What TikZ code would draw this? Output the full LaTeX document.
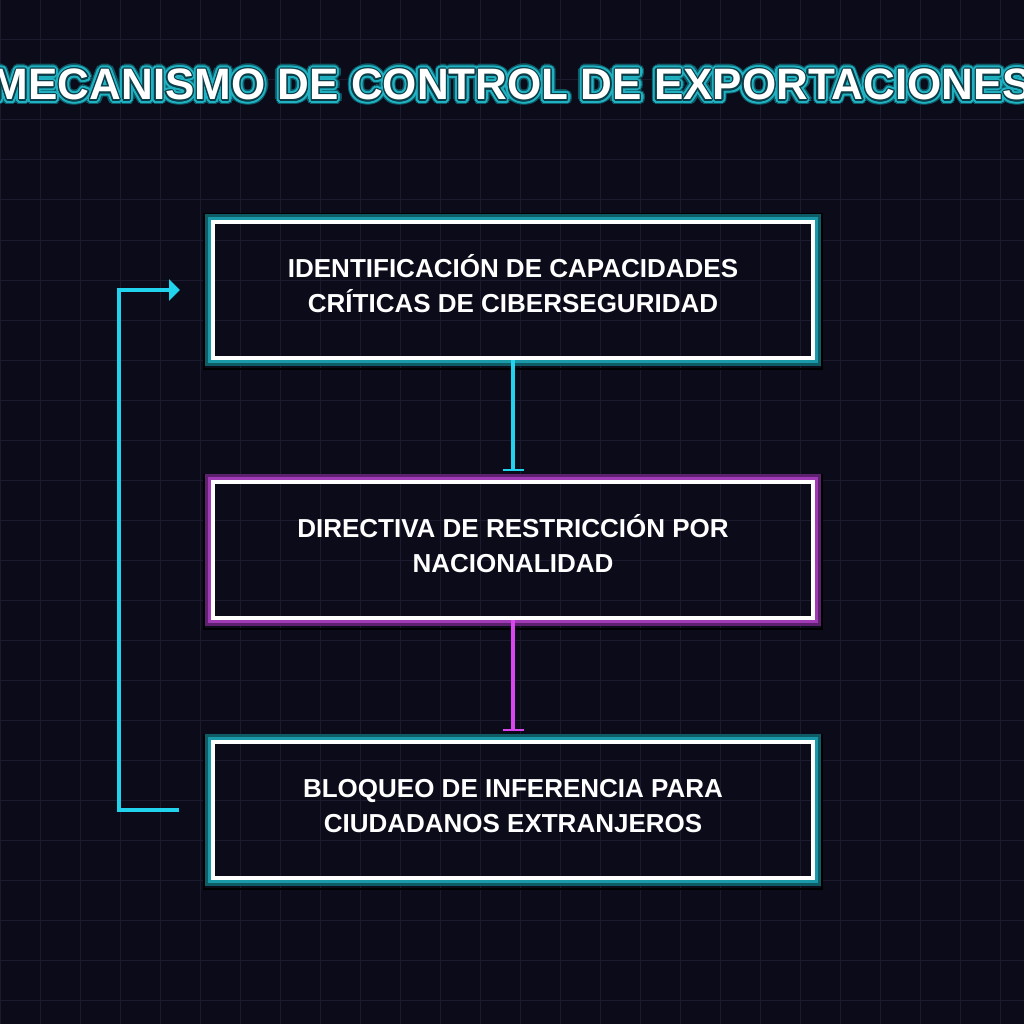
\documentclass[tikz,border=0pt]{standalone}
\usepackage{fontspec}
\setmainfont{Liberation Sans}
\usetikzlibrary{positioning,arrows.meta}
\definecolor{bgdark}{HTML}{0C0B1A}
\definecolor{gridcol}{HTML}{1B1A2F}
\definecolor{cyanline}{HTML}{22D3EE}
\definecolor{magline}{HTML}{D946EF}
\definecolor{tealgl}{HTML}{1A9AA8}
\definecolor{tealdk}{HTML}{0E5C66}
\definecolor{maggl}{HTML}{A03BB5}
\definecolor{magdk}{HTML}{5E2170}
\definecolor{ttlglo}{HTML}{0E5A66}
\definecolor{ttlmid}{HTML}{20B2C2}
\definecolor{ttldk}{HTML}{0B3E48}
\newcommand\titletext{MECANISMO DE CONTROL DE EXPORTACIONES}
\tikzset{
  stage/.style={draw=white, line width=4pt, minimum width=600pt, minimum height=136pt,
                inner sep=0pt, align=center, text=white, text height=49pt, text depth=5pt,
                font=\fontsize{26}{35}\selectfont\bfseries},
  gridln/.style={draw=gridcol, line width=1pt},
  ttl/.style={font=\fontsize{44}{50}\selectfont\bfseries, inner sep=0pt, anchor=base},
  flowc/.style={draw=cyanline, line width=4pt, -{Bar[width=21pt,line width=2pt]}, shorten >=9pt},
  flowm/.style={draw=magline, line width=4pt, -{Bar[width=21pt,line width=2pt]}, shorten >=9pt},
  loopback/.style={draw=cyanline, line width=4pt, -{Triangle[length=11pt,width=21pt]}},
}

\begin{document}
\begin{tikzpicture}[x=1pt, y=-1pt]
  \useasboundingbox (0,0) rectangle (1024,1024);
  \fill[bgdark] (0,0) rectangle (1024,1024);
  \foreach \g in {0,40,...,1000} {
    \draw[gridln] (\g,0) -- (\g,1024);
    \draw[gridln] (0,\g) -- (1024,\g);
  }

  % title with glow
  \foreach \r/\c/\n in {5/ttlglo/a, 3.5/ttlmid/b, 1.3/ttldk/c}
    \foreach \a [count=\k] in {0,22.5,...,337.5}
      \node[ttl, text=\c] (glow\n\k) at ([shift={(\a:\r)}]512,100) {\titletext};
  \node[ttl, text=white] (title) at (512,100) {\titletext};

  % stages
  \node[stage] (b1) at (513,290) {IDENTIFICACIÓN DE CAPACIDADES\\CRÍTICAS DE CIBERSEGURIDAD};
  \node[stage, below=120pt of b1] (b2) {DIRECTIVA DE RESTRICCIÓN POR\\NACIONALIDAD};
  \node[stage, below=120pt of b2] (b3) {BLOQUEO DE INFERENCIA PARA\\CIUDADANOS EXTRANJEROS};

  % glow bands
  \foreach \bx/\gl/\gd in {b1/tealgl/tealdk, b2/maggl/magdk, b3/tealgl/tealdk} {
    \draw[black, line width=2pt] ([shift={(-7,-5.5)}]\bx.north west) rectangle ([shift={(7,8.5)}]\bx.south east);
    \draw[\gd, line width=3pt] ([shift={(-4.5,-4.5)}]\bx.north west) rectangle ([shift={(4.5,4.5)}]\bx.south east);
    \draw[\gl, line width=3pt] ([shift={(-1.5,-1.5)}]\bx.north west) rectangle ([shift={(1.5,1.5)}]\bx.south east);
  }

  % connectors
  \draw[flowc] (b1.south) -- (b2.north);
  \draw[flowm] (b2.south) -- (b3.north);
  \draw[loopback] ([xshift=-32pt]b3.west) -- ++(-60,0) |- ([xshift=-31pt]b1.west);
\end{tikzpicture}
\end{document}
